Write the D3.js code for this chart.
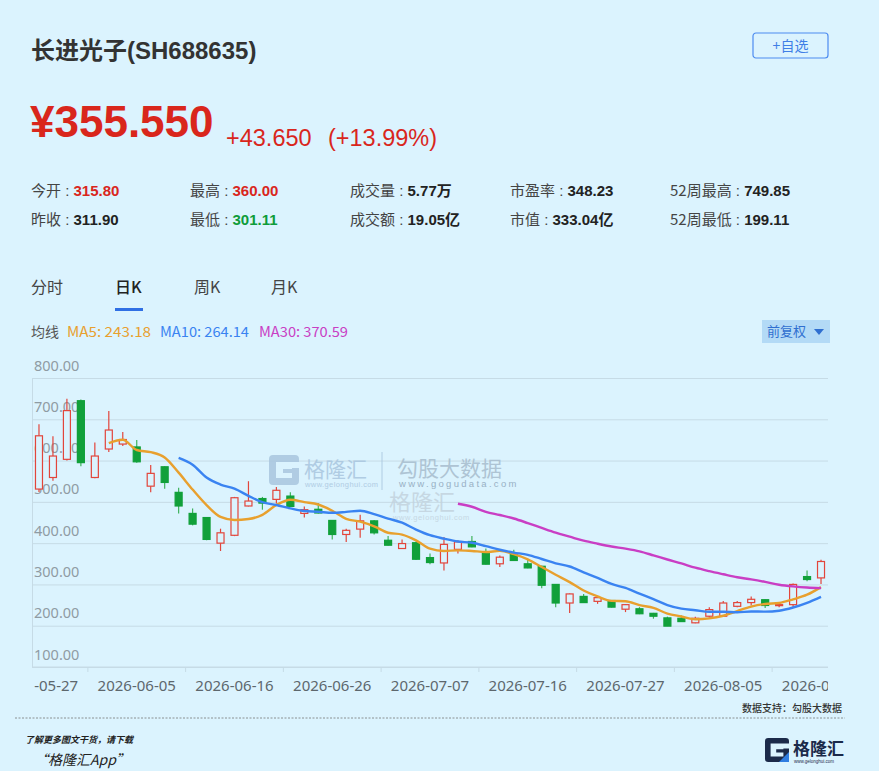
<!DOCTYPE html>
<html>
<head>
<meta charset="utf-8">
<script src="https://cdn.jsdelivr.net/npm/d3@7"></script>
<style>
  body { margin: 0; background: #dbf3fe; }
  svg { display: block; }
</style>
</head>
<body>
<div id="chart"></div>
<script>
// daily bars, 2026
const dates = ["2026-05-27","2026-05-28","2026-05-29","2026-06-01","2026-06-02","2026-06-03","2026-06-04","2026-06-05",
  "2026-06-08","2026-06-09","2026-06-10","2026-06-11","2026-06-12","2026-06-15","2026-06-16","2026-06-17","2026-06-18",
  "2026-06-22","2026-06-23","2026-06-24","2026-06-25","2026-06-26","2026-06-29","2026-06-30","2026-07-01","2026-07-02",
  "2026-07-03","2026-07-06","2026-07-07","2026-07-08","2026-07-09","2026-07-10","2026-07-13","2026-07-14","2026-07-15",
  "2026-07-16","2026-07-17","2026-07-20","2026-07-21","2026-07-22","2026-07-23","2026-07-24","2026-07-27","2026-07-28",
  "2026-07-29","2026-07-30","2026-07-31","2026-08-03","2026-08-04","2026-08-05","2026-08-06","2026-08-07","2026-08-10",
  "2026-08-11","2026-08-12","2026-08-13","2026-08-14"];
const opens  = [531,559,603,745,559,628,640,633,538,585,523,472,462,400,419,490,508,506,514,472,482,455,421,434,454,407,387,401,365,352,
                385,404,376,350,373,350,344,300,255,271,259,261,240,241,230,219,218,207,223,223,247,256,263,249,251,319,315.80];
const highs  = [688,659,749.85,748,644,720,669,650,589,586,534,484,463,435,512,550,512,536,523,489,497,456,435,469,456,417,409,404,375,415,
                407,417,387,370,384,360,345,301,278,277,271,262,252,245,231,222,225,222,245,260,260,271,264,257,302,334,360.00];
const lows   = [524,551,600,586,557,621,635,595,523,532,472,443,407,381,417,489,481,496,488,462,472,409,403,413,421,394,386,359,349,334,
                375,390,348,342,357,339,291,245,231,255,253,244,233,228,217,199.11,209,206,219,222,245,249,243,245,245,308,301.11];
const closes = [660,611,721,595,611,674,651,597,569,547,490,446,409,425,510,502,497,528,489,481,473,421,431,454,425,395,399,361,353,397,
                403,391,349,366,358,340,298,255,277,256,268,245,251,229,223,199,210,218,239,255,256,264,249,251,300,311.90,355.55];

const yTicks = [100,200,300,400,500,600,700,800];
const labelEvery = 7;
const maWindows = [5, 10, 30];
const maColors = ["#e8a02e", "#3a83f1", "#c93ec4"];
const maLegend = ["MA5: 243.18", "MA10: 264.14", "MA30: 370.59"];

const statsRow1 = [["今开", "315.80", "#d9261c"], ["最高", "360.00", "#d9261c"], ["成交量", "5.77万", "#222"], ["市盈率", "348.23", "#222"], ["52周最高", "749.85", "#222"]];
const statsRow2 = [["昨收", "311.90", "#222"], ["最低", "301.11", "#0e9c3a"], ["成交额", "19.05亿", "#222"], ["市值", "333.04亿", "#222"], ["52周最低", "199.11", "#222"]];
const tabs = ["分时", "日K", "周K", "月K"];

const W = 879, H = 771;
const latin = "'Liberation Sans','Noto Sans CJK SC',sans-serif";
const cjk = "'Noto Sans CJK SC','Noto Sans',sans-serif";
const red = "#e2453b", green = "#11a03a";

const svg = d3.select("#chart").append("svg").attr("width", W).attr("height", H);
svg.append("rect").attr("width", W).attr("height", H).attr("fill", "#dbf3fe");

// ---- header
svg.append("text").attr("x", 31).attr("y", 59).attr("font-family", latin).attr("font-weight", 700)
  .attr("font-size", 24).attr("fill", "#333").text("长进光子(SH688635)");

const btn = svg.append("g").attr("transform", "translate(753,33)");
btn.append("rect").attr("width", 75).attr("height", 25).attr("rx", 3).attr("fill", "none").attr("stroke", "#4d8cf0").attr("stroke-width", 1.2);
btn.append("text").attr("x", 37.5).attr("y", 18).attr("text-anchor", "middle").attr("font-family", cjk)
  .attr("font-size", 14).attr("fill", "#3f7fe6").text("+自选");

svg.append("text").attr("x", 30).attr("y", 137).attr("font-family", latin).attr("font-weight", 700)
  .attr("font-size", 44).attr("fill", "#d9261c").text("¥355.550");
const chg = svg.append("text").attr("y", 146).attr("font-family", latin).attr("font-size", 23.5).attr("fill", "#d9261c");
chg.append("tspan").attr("x", 226).text("+43.650");
chg.append("tspan").attr("x", 328).text("(+13.99%)");

const colX = [31, 190, 350, 510, 670];
[[statsRow1, 196], [statsRow2, 225]].forEach(([row, yy]) => {
  row.forEach((s, i) => {
    const t = svg.append("text").attr("x", colX[i]).attr("y", yy).attr("font-size", 15).attr("font-family", latin);
    t.append("tspan").attr("font-family", cjk).attr("fill", "#444").text(s[0]);
    t.append("tspan").attr("fill", "#444").text(" : ");
    t.append("tspan").attr("font-weight", 700).attr("fill", s[2]).text(s[1]);
  });
});

// ---- tabs
const tabX = [31, 115, 194, 271];
tabs.forEach((t, i) => {
  svg.append("text").attr("x", tabX[i]).attr("y", 293).attr("font-family", cjk).attr("font-size", 16)
    .attr("font-weight", i === 1 ? 500 : 400).attr("fill", i === 1 ? "#222" : "#444").text(t);
});
svg.append("rect").attr("x", 115).attr("y", 308).attr("width", 28).attr("height", 3).attr("fill", "#2f6fe4");

// ---- MA legend
const lg = svg.append("text").attr("y", 337).attr("font-size", 14).attr("font-family", cjk);
lg.append("tspan").attr("x", 31).attr("fill", "#555").text("均线");
const lgX = [67, 160, 259];
maLegend.forEach((m, i) => lg.append("tspan").attr("x", lgX[i]).attr("fill", maColors[i])
  .attr("textLength", i ? 89 : 84).attr("lengthAdjust", "spacingAndGlyphs").text(m));

const fq = svg.append("g").attr("transform", "translate(762,320)");
fq.append("rect").attr("width", 68).attr("height", 23).attr("fill", "#b3daf6");
fq.append("text").attr("x", 5).attr("y", 16).attr("font-family", cjk).attr("font-size", 13).attr("fill", "#2f6fd0").text("前复权");
fq.append("path").attr("d", "M52 9 L62 9 L57 15 Z").attr("fill", "#2f6fd0");

// ---- plot
const pLeft = 32, pRight = 828, pTop = 378, pBottom = 667;
const x = d3.scaleBand().domain(d3.range(dates.length)).range([pLeft, pRight]);
const y = d3.scaleLinear().domain([100, 800]).range([pBottom, pTop]);
const cx = i => x(i) + x.bandwidth() / 2;

svg.append("g").attr("transform", `translate(${pLeft},0)`)
  .call(d3.axisLeft(y).tickValues(yTicks).tickSize(-(pRight - pLeft)).tickFormat(d3.format(".2f")))
  .call(g => g.select(".domain").attr("stroke", "#c6dbe6"))
  .call(g => g.selectAll(".tick line").attr("stroke", "#c6dbe6"))
  .call(g => g.selectAll(".tick text").attr("x", 2).attr("dy", "-0.55em").attr("text-anchor", "start")
    .attr("font-family", "'Noto Sans',sans-serif").attr("font-size", 14.5).attr("fill", "#8f9ba3"));

// watermark
const wm = svg.append("g").attr("fill", "#a9c6df").attr("opacity", 0.85);
const gIcon = "M4 0 H26 Q30 0 30 4 V26 Q30 30 26 30 H4 Q0 30 0 26 V4 Q0 0 4 0 Z M7 7 H30 V13 H23 V23 H7 Z M14 14 H23 V18 H14 Z";
wm.append("path").attr("d", gIcon).attr("fill-rule", "evenodd").attr("transform", "translate(269,455)");
wm.append("text").attr("x", 304).attr("y", 477).attr("font-family", cjk).attr("font-size", 21).text("格隆汇");
wm.append("text").attr("x", 305).attr("y", 487).attr("font-family", latin).attr("font-size", 7.5).attr("letter-spacing", 0.4).text("www.gelonghui.com");
wm.append("line").attr("x1", 382).attr("x2", 382).attr("y1", 452).attr("y2", 490).attr("stroke", "#a9c6df");
wm.append("text").attr("x", 397).attr("y", 476).attr("font-family", cjk).attr("font-size", 21).attr("fill", "#a7bccd").text("勾股大数据");
wm.append("text").attr("x", 399).attr("y", 487).attr("font-family", latin).attr("font-size", 9.5).attr("letter-spacing", 2.3).attr("fill", "#8ea6bb").text("www.gogudata.com");
wm.append("text").attr("x", 389).attr("y", 510).attr("font-family", cjk).attr("font-size", 22).attr("fill", "#c3d3de").text("格隆汇");
wm.append("text").attr("x", 393).attr("y", 520).attr("font-family", latin).attr("font-size", 7.5).attr("letter-spacing", 0.6).attr("fill", "#c3d3de").text("www.gelonghui.com");

// x axis
svg.append("clipPath").attr("id", "xclip").append("rect")
  .attr("x", pLeft + 2).attr("y", -2).attr("width", pRight - pLeft - 2).attr("height", 40);
const labelIdx = d3.range(0, dates.length, labelEvery);
svg.append("g").attr("transform", `translate(0,${pBottom})`).attr("clip-path", "url(#xclip)")
  .call(d3.axisBottom(x).tickValues(labelIdx).tickSize(0).tickPadding(13).tickFormat(i => dates[i]))
  .call(g => g.select(".domain").remove())
  .call(g => g.selectAll(".tick text").attr("font-family", "'Noto Sans',sans-serif").attr("font-size", 15).attr("fill", "#5d676d"));
svg.append("line").attr("x1", pLeft).attr("x2", pRight).attr("y1", pBottom).attr("y2", pBottom).attr("stroke", "#c6dbe6");
svg.append("g").selectAll("line").data(labelIdx.slice(0, -1)).join("line")
  .attr("x1", i => (cx(i) + cx(i + labelEvery)) / 2).attr("x2", i => (cx(i) + cx(i + labelEvery)) / 2)
  .attr("y1", pBottom).attr("y2", pBottom + 5).attr("stroke", "#c6dbe6");

// candles
const bw = 7;
const candles = svg.append("g").selectAll("g").data(dates.map((d, i) => i)).join("g");
candles.append("line")
  .attr("x1", i => cx(i)).attr("x2", i => cx(i))
  .attr("y1", i => y(highs[i])).attr("y2", i => y(lows[i]))
  .attr("stroke", i => closes[i] >= opens[i] ? red : "#3fb35c").attr("stroke-width", 1.2);
candles.append("rect")
  .attr("x", i => cx(i) - bw / 2)
  .attr("y", i => y(Math.max(opens[i], closes[i])))
  .attr("width", bw)
  .attr("height", i => Math.max(1, Math.abs(y(opens[i]) - y(closes[i]))))
  .attr("fill", i => closes[i] >= opens[i] ? "#dbf3fe" : green)
  .attr("stroke", i => closes[i] >= opens[i] ? red : green)
  .attr("stroke-width", 1.2);

// moving averages
maWindows.forEach((n, k) => {
  const ma = closes.map((c, i) => i >= n ? d3.mean(closes.slice(i - n + 1, i + 1)) : null);
  const line = d3.line().defined(d => d != null).x((d, i) => cx(i)).y(d => y(d)).curve(d3.curveMonotoneX);
  svg.append("path").datum(ma).attr("d", line).attr("fill", "none")
    .attr("stroke", maColors[k]).attr("stroke-width", 2.4);
});

// ---- footer
svg.append("text").attr("x", 842).attr("y", 712).attr("text-anchor", "end").attr("font-family", cjk)
  .attr("font-size", 10).attr("font-weight", 500).attr("fill", "#333").text("数据支持：勾股大数据");
svg.append("line").attr("x1", 15).attr("x2", 845).attr("y1", 718).attr("y2", 718)
  .attr("stroke", "#777").attr("stroke-dasharray", "2,1.5").attr("stroke-width", 0.8);
svg.append("text").attr("x", 25).attr("y", 743).attr("font-family", cjk).attr("font-size", 9)
  .attr("font-weight", 700).attr("font-style", "italic").attr("fill", "#222").text("了解更多图文干货，请下载");
svg.append("text").attr("x", 34).attr("y", 765).attr("font-family", cjk).attr("font-size", 14)
  .attr("font-style", "italic").attr("fill", "#222").text("“格隆汇App”");

const logo = svg.append("g").attr("transform", "translate(765,738)");
logo.append("path").attr("d", gIcon).attr("fill-rule", "evenodd").attr("fill", "#1b2a4a").attr("transform", "scale(0.8)");
logo.append("path").attr("d", "M24 24 L14 24 L24 14 Z").attr("fill", "#2f7de1");
logo.append("text").attr("x", 28).attr("y", 17).attr("font-family", cjk).attr("font-size", 17).attr("font-weight", 700)
  .attr("fill", "#1b2a4a").text("格隆汇");
logo.append("text").attr("x", 29).attr("y", 25).attr("font-family", latin).attr("font-size", 4.5).attr("fill", "#1b2a4a").text("www.gelonghui.com");
</script>
</body>
</html>
